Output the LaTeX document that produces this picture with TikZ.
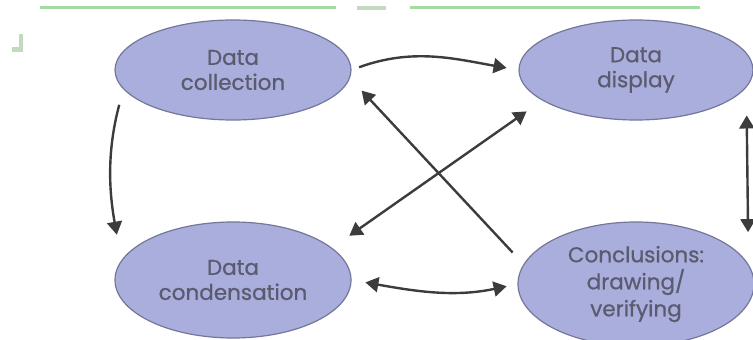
\documentclass[tikz,border=0pt]{standalone}
\usepackage{fontspec}
\setmainfont{Poppins}[FakeBold=0.7]
\usetikzlibrary{arrows.meta, shapes.geometric}
\definecolor{Lavender}{HTML}{A9AEDC}
\definecolor{EdgeGray}{HTML}{74769A}
\definecolor{TextGray}{HTML}{5A5B6E}
\definecolor{ArrowGray}{HTML}{3C3C3C}
\definecolor{TopGreen}{HTML}{A2DCA2}
\definecolor{SpotGreen}{HTML}{C4DAC0}

\begin{document}
\begin{tikzpicture}[x=1pt, y=1pt,
        stage/.style={ellipse, draw=EdgeGray, line width=1.2pt, fill=Lavender, text=TextGray,
            font=\fontsize{21.5}{25}\selectfont, align=center, inner sep=0pt},
        link/.style={line width=2.4pt, draw=ArrowGray, -{Triangle[length=13pt, width=15pt]}},
        twoway/.style={line width=2.4pt, draw=ArrowGray, {Triangle[length=13pt, width=15pt]}-{Triangle[length=13pt, width=15pt]}}]
                \useasboundingbox (0,0) rectangle (753,340);
                % scan marks on top
                \draw[TopGreen, line width=3pt] (40,332) -- (336,332);
                \draw[TopGreen, line width=3pt] (410,332) -- (700,332);
                \draw[SpotGreen, line width=4pt] (357,332) -- (386,332);
                \fill[SpotGreen] (12,288) rectangle (23,293);
                \fill[SpotGreen] (19,288) rectangle (23,306);
                % the four stages
                \node[stage, minimum width=236pt, minimum height=100pt] (collect) at (233,270) {Data\\collection};
                \node[stage, minimum width=234pt, minimum height=100pt] (display) at (636,270) {Data\\display};
                \node[stage, minimum width=236pt, minimum height=116pt] (condense) at (233,60) {Data\\condensation};
                \node[stage, minimum width=236pt, minimum height=124pt, font=\fontsize{21.5}{27}\selectfont] (conclude) at (636,56) {Conclusions:\\drawing/\\verifying};
                % links
                \draw[link, shorten <=8pt, shorten >=12pt] (collect.east) to[out=20, in=170] (display.west);
                \draw[link, shorten <=16pt, shorten >=26pt] (collect.190) to[out=255, in=100] (condense.170);
                \draw[twoway, shorten <=28pt, shorten >=32pt] (display.-9) -- (conclude.10);
                \draw[twoway, shorten <=14pt, shorten >=11pt] (condense.east) to[out=-10, in=192] (conclude.west);
                \draw[link, shorten <=16pt, shorten >=17pt] (conclude.170) -- (collect.-4);
                \draw[twoway, shorten <=21pt, shorten >=19pt] (condense.18) -- (display.198);
            \end{tikzpicture}
\end{document}
